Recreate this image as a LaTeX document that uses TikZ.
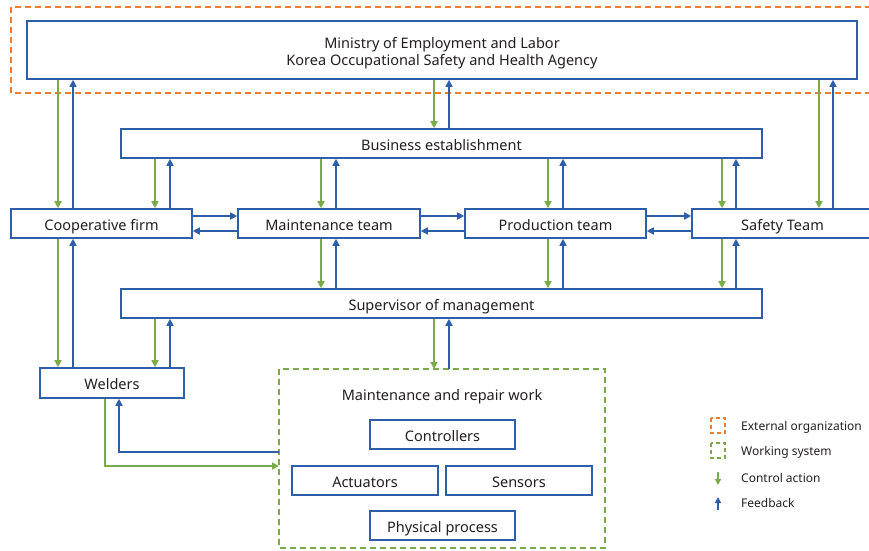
\documentclass[tikz,border=0pt]{standalone}
\usepackage{fontspec}
\setmainfont{Noto Sans}
\usetikzlibrary{arrows.meta}
\definecolor{bl}{RGB}{46,94,170}
\definecolor{gr}{RGB}{122,171,72}
\definecolor{orng}{RGB}{237,125,49}
\definecolor{txt}{RGB}{35,31,32}
\tikzset{
  box/.style={draw=bl, line width=1.6pt, fill=white, text=txt, inner sep=0pt, font=\fontsize{14.5}{17}\selectfont, align=center, text height=13pt, text depth=0pt},
  ctrl/.style={draw=gr, line width=1.6pt, -{Triangle[length=7pt,width=7pt]}},
  fb/.style={draw=bl, line width=1.6pt, -{Triangle[length=7pt,width=7pt]}},
  lbl/.style={text=txt, inner sep=0pt, font=\fontsize{14.5}{17}\selectfont},
  leg/.style={text=txt, inner sep=0pt, anchor=base west, font=\fontsize{12}{14}\selectfont},
}
\begin{document}
\begin{tikzpicture}[x=1pt,y=-1pt]
\useasboundingbox (0,0) rectangle (869,550);
\clip (0,0) rectangle (869,550);
% external organization
\draw[orng, line width=1.6pt, dash pattern=on 6pt off 4pt] (11,7) rectangle (885,93);
\node[draw=bl, line width=1.6pt, fill=white, inner sep=0pt, minimum width=830pt, minimum height=58pt] (min) at (442,50) {};
\node[lbl, anchor=base] (minl1) at (442,48.3) {Ministry of Employment and Labor};
\node[lbl, anchor=base] (minl2) at (442,65.2) {Korea Occupational Safety and Health Agency};
\node[box, minimum width=641pt, minimum height=29pt] (bus) at (441.5,143.5) {Business establishment};
\node[box, minimum width=181pt, minimum height=29pt] (coop) at (101.5,223.5) {Cooperative firm};
\node[box, minimum width=182pt, minimum height=29pt] (mt) at (329,223.5) {Maintenance team};
\node[box, minimum width=181pt, minimum height=29pt] (pt) at (555.5,223.5) {Production team};
\node[box, minimum width=181pt, minimum height=29pt] (st) at (782.5,223.5) {Safety Team};
\node[box, minimum width=641pt, minimum height=29pt] (sup) at (441.5,303.5) {Supervisor of management};
\node[box, minimum width=144pt, minimum height=30pt] (wel) at (112,383) {Welders};
% working system
\draw[gr, line width=1.6pt, dash pattern=on 6pt off 4pt] (279,369) rectangle (605,548);
\coordinate (ws) at (442,369);
\coordinate (wsl) at (279,459);
\node[lbl, anchor=base] (mrw) at (442,400) {Maintenance and repair work};
\node[box, minimum width=145pt, minimum height=29pt] (con) at (442.5,434.5) {Controllers};
\node[box, minimum width=146pt, minimum height=29pt] (act) at (365,480.5) {Actuators};
\node[box, minimum width=146pt, minimum height=29pt] (sen) at (519,480.5) {Sensors};
\node[box, minimum width=145pt, minimum height=29pt] (phy) at (442.5,525.5) {Physical process};
% ministry links
\draw[ctrl] (min.south -| 58,0) -- (coop.north -| 58,0);
\draw[fb] (coop.north -| 73,0) -- (min.south -| 73,0);
\draw[ctrl] (min.south -| 434,0) -- (bus.north -| 434,0);
\draw[fb] (bus.north -| 449,0) -- (min.south -| 449,0);
\draw[ctrl] (min.south -| 819,0) -- (st.north -| 819,0);
\draw[fb] (st.north -| 833,0) -- (min.south -| 833,0);
% business to teams
\draw[ctrl] (bus.south -| 155,0) -- (coop.north -| 155,0);
\draw[fb] (coop.north -| 170,0) -- (bus.south -| 170,0);
\draw[ctrl] (bus.south -| 321,0) -- (mt.north -| 321,0);
\draw[fb] (mt.north -| 336,0) -- (bus.south -| 336,0);
\draw[ctrl] (bus.south -| 548,0) -- (pt.north -| 548,0);
\draw[fb] (pt.north -| 563,0) -- (bus.south -| 563,0);
\draw[ctrl] (bus.south -| 722,0) -- (st.north -| 722,0);
\draw[fb] (st.north -| 736,0) -- (bus.south -| 736,0);
% horizontal
\draw[fb] (coop.east |- 0,216) -- (mt.west |- 0,216);
\draw[fb] (mt.west |- 0,231) -- (coop.east |- 0,231);
\draw[fb] (mt.east |- 0,216) -- (pt.west |- 0,216);
\draw[fb] (pt.west |- 0,231) -- (mt.east |- 0,231);
\draw[fb] (pt.east |- 0,216) -- (st.west |- 0,216);
\draw[fb] (st.west |- 0,231) -- (pt.east |- 0,231);
% teams to supervisor
\draw[ctrl] (mt.south -| 321,0) -- (sup.north -| 321,0);
\draw[fb] (sup.north -| 336,0) -- (mt.south -| 336,0);
\draw[ctrl] (pt.south -| 548,0) -- (sup.north -| 548,0);
\draw[fb] (sup.north -| 563,0) -- (pt.south -| 563,0);
\draw[ctrl] (st.south -| 722,0) -- (sup.north -| 722,0);
\draw[fb] (sup.north -| 736,0) -- (st.south -| 736,0);
% coop to welders
\draw[ctrl] (coop.south -| 58,0) -- (wel.north -| 58,0);
\draw[fb] (wel.north -| 73,0) -- (coop.south -| 73,0);
% supervisor to welders and working system
\draw[ctrl] (sup.south -| 155,0) -- (wel.north -| 155,0);
\draw[fb] (wel.north -| 170,0) -- (sup.south -| 170,0);
\draw[ctrl] (sup.south -| 434,0) -- (ws -| 434,0);
\draw[fb] (ws -| 449,0) -- (sup.south -| 449,0);
% welders and working system
\draw[fb] (wsl |- 0,452) -- (119,452) -- (wel.south -| 119,0);
\draw[ctrl] (wel.south -| 105,0) -- (105,466) -- (wsl |- 0,466);
% legend
\draw[orng, line width=1.6pt, dash pattern=on 4pt off 3pt] (711,418) rectangle (725,433);
\node[leg] (l1) at (741,430) {External organization};
\draw[gr, line width=1.6pt, dash pattern=on 4pt off 3pt] (711,443) rectangle (725,458);
\node[leg] (l2) at (741,455.5) {Working system};
\coordinate (c1) at (718,472);
\coordinate (c2) at (718,485);
\draw[ctrl, line width=1.2pt, -{Triangle[length=6pt,width=6pt]}] (c1) -- (c2);
\node[leg] (l3) at (741,482) {Control action};
\coordinate (f1) at (718,510);
\coordinate (f2) at (718,497);
\draw[fb, line width=1.2pt, -{Triangle[length=6pt,width=6pt]}] (f1) -- (f2);
\node[leg] (l4) at (741,507) {Feedback};
\end{tikzpicture}
\end{document}
